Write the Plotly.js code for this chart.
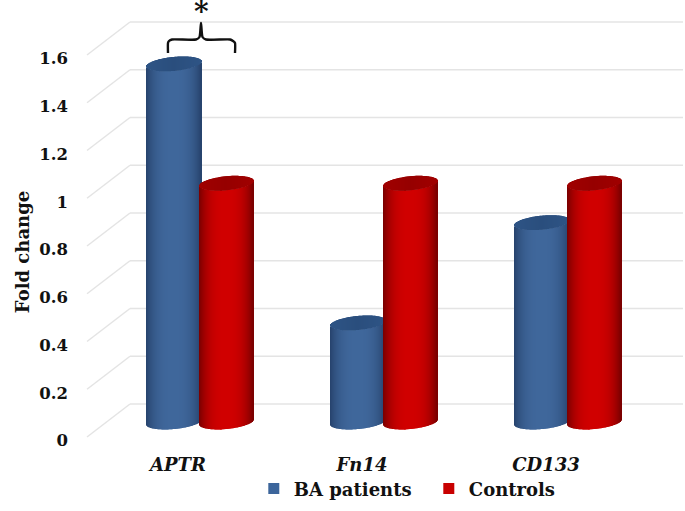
<!DOCTYPE html>
<html><head><meta charset="utf-8">
<script src="https://cdn.plot.ly/plotly-3.0.1.min.js"></script>
<style>html,body{margin:0;padding:0;background:#fff}</style>
</head><body><div id="chart" style="width:685px;height:511px"></div>
<script>
const categories = ['APTR', 'Fn14', 'CD133'];
const baPatients = [1.5, 0.415, 0.835];
const controls = [1.0, 1.0, 1.0];
const yTicks = [0, 0.2, 0.4, 0.6, 0.8, 1, 1.2, 1.4, 1.6];
const yTickText = ['0', '0.2', '0.4', '0.6', '0.8', '1', '1.2', '1.4', '1.6'];

const W = 685, H = 511;
const M = {l: 69, r: 0, t: 0, b: 7};
const pxPerUnit = 238.75, pxPerCat = 184, group0 = 199, zeroPx = 440.5;
const xOf = p => (p - group0) / pxPerCat;
const yOf = p => (zeroPx - p) / pxPerUnit;
const xRange = [xOf(M.l), xOf(W - M.r)];
const yRange = [yOf(H - M.b), yOf(M.t)];

const FONT = '"DejaVu Serif", serif';
const floorV = 18.5 / pxPerUnit, radius = 27.2, rimB = 7, tilt = 2.5;

function mix(a, b, t) { return a.map((v, i) => Math.round(v + (b[i] - v) * t)); }
function rgb(c) { return 'rgb(' + c.join(',') + ')'; }

function cylinders(name, values, dx, mid, edge, cap, capEdge) {
  const x = [], base = [], y = [], color = [], width = [];
  const n = 55, w = 1.15 * 2 * radius / n / pxPerCat;
  values.forEach((v, i) => {
    const cx = i + dx / pxPerCat;
    for (let k = 0; k < n; k++) {
      const u = (k + 0.5) / n * 2 - 1;
      const front = rimB * Math.sqrt(1 - u * u) - tilt * u;
      const s = Math.pow(Math.abs(u), 2.8);
      x.push(cx + u * radius / pxPerCat);
      base.push(floorV - front / pxPerUnit);
      y.push(v); width.push(w); color.push(rgb(mix(mid, edge, s)));
    }
    for (let k = 0; k < n; k++) {
      const u = (k + 0.5) / n * 2 - 1;
      const c = Math.sqrt(1 - u * u);
      const front = rimB * c - tilt * u, back = -rimB * c - tilt * u;
      x.push(cx + u * radius / pxPerCat);
      base.push(floorV + v - front / pxPerUnit);
      y.push((front - back) / pxPerUnit); width.push(w);
      color.push(rgb(mix(cap, capEdge, Math.abs(u))));
    }
  });
  return {type: 'bar', name, x, y, base, width, marker: {color, line: {width: 0}},
          showlegend: false, cliponaxis: false, hoverinfo: 'skip'};
}

const blueBars = cylinders('BA patients', baPatients, -25, [63, 103, 155], [38, 66, 108], [42, 78, 125], [46, 84, 133]);
const redBars = cylinders('Controls', controls, 27.5, [208, 0, 0], [120, 0, 0], [150, 0, 0], [160, 0, 0]);

const legendA = {type: 'scatter', mode: 'markers', name: 'BA patients', x: [null], y: [null],
                 marker: {symbol: 'square', size: 11, color: '#3c659b'}};
const legendB = {type: 'scatter', mode: 'markers', name: 'Controls', x: [null], y: [null],
                 marker: {symbol: 'square', size: 11, color: '#c80000'}};

const depth = 36.5 / pxPerUnit, frontOff = 3.5 / pxPerUnit;
const gridShapes = [];
yTicks.forEach(t => {
  const line = {type: 'line', xref: 'x', yref: 'y', layer: 'below', line: {color: '#e4e4e4', width: 1.5}};
  gridShapes.push(Object.assign({}, line, {x0: xOf(87), x1: xOf(130), y0: t + frontOff, y1: t + depth}));
  gridShapes.push(Object.assign({}, line, {x0: xOf(130), x1: xOf(683), y0: t + depth, y1: t + depth}));
});

const brX = [168, 168, 169, 172, 196, 199.5, 201, 202.5, 206, 230, 233, 235, 235].map(p => xOf(p));
const brY = [53, 43, 41, 39.5, 39.5, 37, 23, 37, 39.5, 39.5, 41, 43, 53].map(p => yOf(p));
const brace = {type: 'scatter', mode: 'lines', x: brX, y: brY, line: {color: '#111', width: 2.4, shape: 'spline', smoothing: 0.5},
               showlegend: false, hoverinfo: 'skip'};

const layout = {
  width: W, height: H,
  margin: M,
  paper_bgcolor: '#fff', plot_bgcolor: 'rgba(0,0,0,0)',
  barmode: 'overlay',
  shapes: gridShapes,
  font: {family: FONT, color: '#111'},
  xaxis: {range: xRange, showgrid: false, zeroline: false, showline: false, ticks: '',
          anchor: 'free', position: (H - M.b - 452) / (H - M.b),
          tickmode: 'array', tickvals: categories.map((c, i) => i - 21 / pxPerCat), ticktext: categories,
          tickfont: {family: FONT, size: 18, weight: 'bold', style: 'italic', color: '#111'}},
  yaxis: {range: yRange, showgrid: false, zeroline: false, showline: false, ticks: '',
          tickmode: 'array', tickvals: yTicks, ticktext: yTickText,
          tickfont: {family: FONT, size: 16.5, weight: 'bold', color: '#111'},
          title: {text: 'Fold change', standoff: 4, font: {family: FONT, size: 18, weight: 'bold', color: '#111'}}},
  legend: {orientation: 'h', x: 0.3, xanchor: 'left', y: 0.03, yanchor: 'middle',
           entrywidth: 130, entrywidthmode: 'pixels',
           font: {family: FONT, size: 18, weight: 'bold', color: '#111'}, bgcolor: 'rgba(0,0,0,0)'},
  annotations: [{xref: 'x', yref: 'y', x: xOf(201.5), y: yOf(11), text: '*', showarrow: false,
                 font: {family: FONT, size: 28, weight: 'bold', color: '#111'}}]
};

Plotly.newPlot('chart', [blueBars, redBars, brace, legendA, legendB], layout, {displayModeBar: false});
</script></body></html>
